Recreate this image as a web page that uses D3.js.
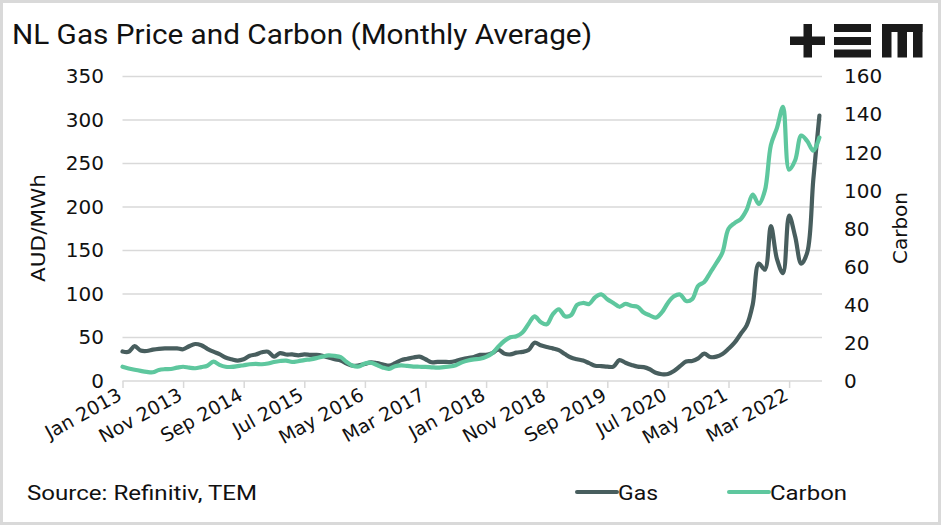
<!DOCTYPE html>
<html>
<head>
<meta charset="utf-8">
<script src="https://cdn.jsdelivr.net/npm/d3@7"></script>
<style>
  body { margin: 0; background: #fff; }
  svg text { fill: #111; }
</style>
</head>
<body>
<div id="chart"></div>
<script>
// monthly averages, Jan 2013 .. Aug 2022
var gas = [
  34, 33.5, 40, 35, 34.5, 36, 37, 37.5, 37.5, 37.5,
  36.5, 40, 42.5, 41, 37, 33.7, 31, 27, 25, 23.5,
  25, 29, 30.5, 33, 33.7, 28, 32, 30.5, 30.5, 29.5,
  30.5, 30, 30, 29, 27, 25, 23.5, 20, 17.5, 18,
  19.5, 21.5, 20.5, 19, 17.6, 20.5, 24, 25.5, 27, 28,
  25, 21.5, 22, 22, 21.8, 23, 25, 26.5, 27.5, 30,
  30, 32, 36, 31.5, 30.5, 32.6, 33.5, 35.5, 44, 41,
  39, 37.5, 35.5, 31, 27, 25, 23.5, 20.5, 17.5, 17.2,
  16.5, 16.5, 24, 21, 18.5, 16.5, 16, 13.5, 9.5, 7.8,
  8, 11.5, 17, 22.5, 23, 26, 31.5, 27.5, 28, 31,
  37, 44, 54, 64, 88, 135, 128, 178, 140, 124,
  190, 166, 135, 148, 232, 305
];
var carbon = [
  7.5, 6.6, 5.9, 5.3, 4.8, 4.6, 5.8, 6.2, 6.3, 7.0,
  7.5, 7.0, 6.7, 7.3, 8.0, 10.2, 8.5, 7.5, 7.4, 7.8,
  8.3, 8.8, 9.0, 8.8, 9.2, 10.0, 10.5, 10.7, 10.0, 10.4,
  11.0, 11.4, 12.0, 12.8, 13.5, 13.2, 12.5, 10, 8, 7.6,
  9.2, 9.6, 8.4, 7.0, 6.4, 7.8, 8.2, 7.9, 7.6, 7.5,
  7.4, 7.2, 7.0, 7.3, 7.6, 8.3, 9.8, 10.8, 11.4, 11.7,
  12.7, 14.5, 18, 21, 23, 23.5, 25.5, 30, 34, 31,
  29.8, 35, 37.7, 34, 34.5, 40, 41, 40.5, 44, 45.5,
  43, 41, 39, 40.5, 39.5, 39, 36, 34.5, 33.3, 36,
  41, 44.5, 45.5, 42, 43, 50, 52, 57, 62, 67.5,
  80, 83, 85, 90, 98, 93, 100, 124, 133, 144,
  111, 116, 129, 126, 121, 128
];
var xTickIdx = [0, 10, 20, 30, 40, 50, 60, 70, 80, 90, 100, 110];
var xTickLabels = ['Jan 2013','Nov 2013','Sep 2014','Jul 2015','May 2016','Mar 2017',
                   'Jan 2018','Nov 2018','Sep 2019','Jul 2020','May 2021','Mar 2022'];
var leftTicks = [0, 50, 100, 150, 200, 250, 300, 350];
var rightTicks = [0, 20, 40, 60, 80, 100, 120, 140, 160];

var W = 941, H = 525;
var gasColor = '#485e5e', carbonColor = '#5ec79e';
var tickFont = '"DejaVu Sans", sans-serif';
var narrowFont = '"Liberation Sans Narrow", "Roboto", sans-serif';

var svg = d3.select('#chart').append('svg')
  .attr('width', W).attr('height', H);

svg.append('rect')
  .attr('x', 1.5).attr('y', 1.5).attr('width', W - 3).attr('height', H - 3)
  .attr('fill', '#fff').attr('stroke', '#d9d9d9').attr('stroke-width', 3);

var x = d3.scaleLinear().domain([0, gas.length - 1]).range([122.5, 819.4]);
var yL = d3.scaleLinear().domain([0, 350]).range([381, 76.5]);
var yR = d3.scaleLinear().domain([0, 160]).range([381, 76.5]);
var plotRight = 822;

// gridlines
svg.append('g').selectAll('line').data(leftTicks.slice(1)).enter()
  .append('line')
    .attr('x1', x(0)).attr('x2', plotRight)
    .attr('y1', function(d) { return yL(d); })
    .attr('y2', function(d) { return yL(d); })
    .attr('stroke', '#d9d9d9').attr('stroke-width', 1.5);

// x axis
var xAxis = d3.axisBottom(x).tickValues(xTickIdx).tickSize(7)
  .tickFormat(function(d, i) { return xTickLabels[i]; });
var gx = svg.append('g').attr('transform', 'translate(0,' + yL(0) + ')').call(xAxis);
gx.select('.domain').attr('d', 'M' + x(0) + ',0H' + plotRight).attr('stroke', '#d9d9d9').attr('stroke-width', 1.5);
gx.selectAll('.tick line').attr('stroke', '#d9d9d9').attr('stroke-width', 1.5);
gx.selectAll('.tick text')
  .attr('font-family', tickFont).attr('font-size', 19).attr('fill', '#111')
  .attr('text-anchor', 'end')
  .attr('y', 0).attr('dy', 0)
  .attr('transform', 'translate(0,18) rotate(-29)');

// left axis
var gl = svg.append('g').attr('transform', 'translate(104,0)')
  .call(d3.axisLeft(yL).tickValues(leftTicks).tickSize(0).tickPadding(0));
gl.select('.domain').remove();
gl.selectAll('text').attr('font-family', tickFont).attr('font-size', 20).attr('fill', '#111');

// right axis
var gr = svg.append('g').attr('transform', 'translate(844,0)')
  .call(d3.axisRight(yR).tickValues(rightTicks).tickSize(0).tickPadding(0));
gr.select('.domain').remove();
gr.selectAll('text').attr('font-family', tickFont).attr('font-size', 20).attr('fill', '#111');

svg.append('text')
  .attr('transform', 'translate(45,228) rotate(-90)')
  .attr('text-anchor', 'middle')
  .attr('font-family', tickFont).attr('font-size', 20)
  .attr('textLength', 108).attr('lengthAdjust', 'spacingAndGlyphs')
  .text('AUD/MWh');
svg.append('text')
  .attr('transform', 'translate(907,228) rotate(-90)')
  .attr('text-anchor', 'middle')
  .attr('font-family', tickFont).attr('font-size', 20)
  .text('Carbon');

// lines
var gasLine = d3.line()
  .x(function(d, i) { return x(i); })
  .y(function(d) { return yL(d); })
  .curve(d3.curveCatmullRom);
var carbonLine = d3.line()
  .x(function(d, i) { return x(i); })
  .y(function(d) { return yR(d); })
  .curve(d3.curveCatmullRom);

svg.append('path').datum(gas)
  .attr('d', gasLine).attr('fill', 'none')
  .attr('stroke', gasColor).attr('stroke-width', 4.2).attr('stroke-linejoin', 'round').attr('stroke-linecap', 'round');
svg.append('path').datum(carbon)
  .attr('d', carbonLine).attr('fill', 'none')
  .attr('stroke', carbonColor).attr('stroke-width', 4.2).attr('stroke-linejoin', 'round').attr('stroke-linecap', 'round');

// title + source
svg.append('text')
  .attr('x', 12).attr('y', 44)
  .attr('font-family', narrowFont).attr('font-size', 27)
  .attr('textLength', 580).attr('lengthAdjust', 'spacingAndGlyphs')
  .text('NL Gas Price and Carbon (Monthly Average)');
svg.append('text')
  .attr('x', 27).attr('y', 500)
  .attr('font-family', narrowFont).attr('font-size', 21)
  .attr('textLength', 230).attr('lengthAdjust', 'spacingAndGlyphs')
  .text('Source: Refinitiv, TEM');

// legend
var legend = [
  {name: 'Gas', color: gasColor, x: 577, w: 40},
  {name: 'Carbon', color: carbonColor, x: 729, w: 77}
];
var lg = svg.append('g').selectAll('g').data(legend).enter().append('g')
  .attr('transform', function(d) { return 'translate(' + d.x + ',0)'; });
lg.append('line')
  .attr('x1', 0).attr('x2', 40).attr('y1', 492).attr('y2', 492)
  .attr('stroke', function(d) { return d.color; }).attr('stroke-width', 4).attr('stroke-linecap', 'round');
lg.append('text')
  .attr('x', 41).attr('y', 500)
  .attr('font-family', narrowFont).attr('font-size', 21)
  .attr('textLength', function(d) { return d.w; }).attr('lengthAdjust', 'spacingAndGlyphs')
  .text(function(d) { return d.name; });

// logo
var logo = svg.append('g').attr('fill', '#1a1a1a');
logo.append('rect').attr('x', 790).attr('y', 36.5).attr('width', 35).attr('height', 8.5);
logo.append('rect').attr('x', 803.5).attr('y', 24).attr('width', 8.5).attr('height', 33.5);
[24, 37, 49.5].forEach(function(yy) {
  logo.append('rect').attr('x', 834).attr('y', yy).attr('width', 37).attr('height', 8);
});
logo.append('rect').attr('x', 882).attr('y', 24).attr('width', 40.5).attr('height', 8);
[882, 897.5, 913].forEach(function(xx) {
  logo.append('rect').attr('x', xx).attr('y', 24).attr('width', 9.5).attr('height', 33.5);
});
</script>
</body>
</html>
